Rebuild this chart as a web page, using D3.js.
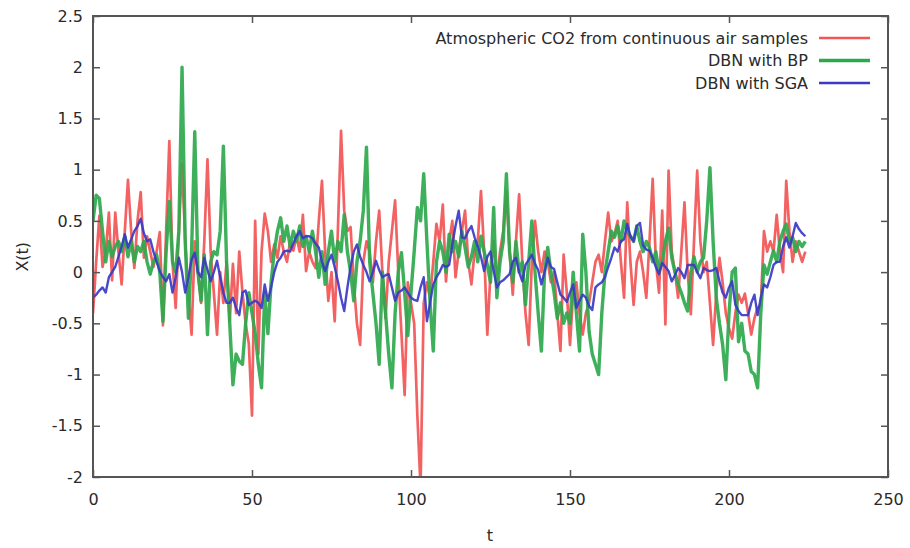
<!DOCTYPE html>
<html>
<head>
<meta charset="utf-8">
<script src="https://cdn.jsdelivr.net/npm/d3@7"></script>
<style>
  body { margin: 0; background: #fff; }
  svg text { font-family: "DejaVu Sans", sans-serif; fill: #2a2a2a; }
</style>
</head>
<body>
<div id="chart-area"></div>
<script>
// series values, one per time step t = 0 .. 224
var co2 = [
  -0.40, 0.10, 0.55, 0.05, 0.20, 0.58, -0.08, 0.58, 0.20, -0.12,
  0.40, 0.90, 0.40, 0.04, 0.50, 0.78, 0.14, 0.35, 0.20, 0.05,
  0.20, 0.39, -0.52, 0.40, 1.28, 0.10, -0.35, 0.40, 1.06, 0.30,
  -0.20, -0.61, 0.30, 0.00, -0.30, 0.30, 1.10, 0.20, -0.20, -0.61,
  0.00, -0.30, 0.10, -0.48, 0.08, -0.40, 0.20, -0.20, -0.50, -0.70,
  -1.40, 0.50, -0.80, 0.20, 0.57, 0.40, 0.10, 0.27, 0.14, 0.35,
  0.20, 0.10, 0.30, 0.21, 0.35, 0.20, 0.56, 0.01, 0.20, 0.10,
  0.04, 0.50, 0.89, 0.20, -0.28, 0.00, -0.48, 0.40, 1.38, 0.60,
  0.40, 0.44, -0.10, -0.50, -0.71, 0.10, 0.30, 0.20, -0.10, 0.30,
  0.60, 0.00, -0.45, 0.10, 0.40, 0.70, 0.00, -0.60, -1.20, -0.10,
  -0.30, -0.50, -1.40, -2.10, -0.30, -0.10, -0.25, 0.10, 0.47, 0.30,
  0.66, -0.09, 0.30, 0.50, -0.05, 0.20, 0.40, 0.60, 0.10, -0.12,
  0.20, 0.30, 0.79, 0.20, -0.61, 0.00, 0.30, -0.10, 0.20, 0.40,
  0.79, 0.20, -0.22, 0.30, 0.76, 0.10, -0.40, -0.71, 0.10, 0.50,
  0.20, 0.00, 0.20, 0.10, -0.10, 0.00, -0.40, -0.77, 0.17, -0.20,
  -0.71, -0.20, -0.10, -0.40, -0.61, -0.40, -0.30, -0.10, 0.10, 0.17,
  0.00, 0.30, 0.58, 0.30, 0.37, 0.50, 0.10, -0.25, 0.68, 0.10,
  -0.32, 0.10, 0.20, 0.00, -0.25, 0.30, 0.91, 0.10, -0.20, 0.60,
  -0.51, 0.99, 0.20, 0.00, -0.25, 0.20, 0.68, 0.00, -0.41, 0.30,
  0.99, 0.30, 0.00, 0.10, -0.30, -0.71, -0.20, 0.14, -0.10, -0.40,
  -0.55, -0.65, -0.40, -0.22, -0.30, -0.21, -0.40, -0.61, -0.45, -0.35,
  -0.32, 0.40, 0.20, 0.30, 0.20, 0.56, 0.20, 0.00, 0.89, 0.40,
  0.10, 0.30, 0.20, 0.10, 0.20
];

var dbnBP = [
  0.50, 0.75, 0.72, 0.40, 0.10, 0.30, 0.15, 0.25, 0.30, 0.20,
  0.35, 0.15, 0.30, 0.10, 0.25, 0.20, 0.30, 0.10, -0.02, 0.10,
  0.17, 0.00, -0.48, 0.20, 0.69, 0.10, 0.00, 0.40, 2.00, 0.30,
  -0.45, 0.20, 1.37, 0.00, -0.28, 0.17, -0.61, 0.10, 0.20, 0.17,
  0.40, 1.23, 0.10, -0.50, -1.10, -0.80, -0.87, -0.90, -0.50, -0.20,
  -0.40, -0.60, -0.90, -1.13, -0.20, -0.60, -0.10, 0.20, 0.40, 0.53,
  0.30, 0.45, 0.25, 0.40, 0.30, 0.45, 0.25, 0.35, 0.20, 0.40,
  0.20, -0.05, 0.20, -0.12, 0.20, 0.40, 0.10, 0.30, 0.20, 0.56,
  0.20, 0.00, -0.28, 0.10, 0.30, 0.60, 1.22, 0.10, -0.20, -0.50,
  -0.90, 0.00, -0.40, -0.80, -1.13, -0.40, 0.00, 0.19, -0.20, -0.62,
  -0.20, 0.20, 0.63, 0.50, 0.96, 0.30, -0.30, -0.77, 0.10, 0.30,
  0.20, 0.00, 0.37, 0.20, 0.30, 0.15, 0.40, 0.24, 0.05, 0.15,
  0.30, 0.10, 0.35, 0.20, 0.07, -0.10, 0.63, -0.25, 0.10, 0.30,
  0.96, 0.20, -0.10, 0.30, 0.00, 0.10, -0.32, 0.10, 0.50, 0.00,
  -0.40, -0.77, 0.00, 0.24, 0.00, -0.20, -0.45, -0.30, -0.50, -0.40,
  -0.50, 0.00, -0.40, -0.77, 0.37, 0.00, -0.58, -0.80, -0.90, -1.00,
  -0.40, 0.00, 0.20, 0.40, 0.34, 0.45, 0.30, 0.50, 0.40, 0.35,
  0.30, 0.45, 0.30, 0.20, 0.30, 0.24, 0.10, 0.20, 0.00, 0.10,
  0.30, 0.43, 0.14, 0.00, -0.12, -0.20, -0.30, -0.38, 0.00, 0.15,
  0.00, 0.10, 0.14, 0.50, 1.02, 0.30, -0.25, -0.50, -0.71, -1.05,
  -0.40, 0.00, 0.04, -0.68, -0.50, -0.77, -0.80, -0.97, -1.00, -1.13,
  -0.40, 0.07, -0.02, 0.10, 0.21, 0.10, 0.30, 0.40, 0.47, 0.30,
  0.34, 0.20, 0.30, 0.25, 0.30
];

var dbnSGA = [
  -0.25, -0.22, -0.18, -0.15, -0.20, -0.05, 0.00, 0.05, 0.15, 0.25,
  0.37, 0.24, 0.32, 0.40, 0.45, 0.52, 0.38, 0.30, 0.32, 0.20,
  0.10, 0.01, -0.05, -0.09, -0.02, -0.20, -0.05, 0.14, 0.00, -0.20,
  -0.05, 0.12, 0.19, 0.00, -0.05, 0.14, 0.02, -0.09, 0.00, 0.11,
  -0.05, -0.20, -0.30, -0.30, -0.25, -0.35, -0.42, -0.20, -0.18, -0.32,
  -0.30, -0.28, -0.30, -0.35, -0.12, -0.28, -0.15, 0.00, 0.10, 0.14,
  0.20, 0.21, 0.20, 0.28, 0.35, 0.40, 0.33, 0.35, 0.35, 0.33,
  0.28, 0.24, 0.10, 0.01, 0.10, 0.17, 0.05, -0.09, -0.25, -0.38,
  -0.15, 0.05, 0.20, 0.27, 0.15, 0.07, 0.00, -0.09, 0.00, 0.11,
  0.02, -0.05, -0.03, -0.02, -0.15, -0.28, -0.20, -0.18, -0.15, -0.20,
  -0.25, -0.27, -0.28, -0.15, -0.05, -0.48, -0.30, -0.12, -0.05, 0.00,
  0.07, 0.05, 0.07, 0.27, 0.45, 0.60, 0.34, 0.33, 0.40, 0.45,
  0.34, 0.25, 0.15, 0.01, 0.15, 0.20, 0.01, -0.15, -0.10, -0.08,
  -0.05, -0.02, 0.10, 0.14, 0.00, -0.09, 0.07, 0.12, 0.17, 0.08,
  0.02, -0.12, 0.00, 0.14, 0.05, 0.03, -0.10, -0.22, -0.25, -0.29,
  -0.20, -0.12, -0.35, -0.28, -0.22, -0.25, -0.33, -0.37, -0.15, -0.12,
  -0.10, -0.05, 0.05, 0.14, 0.24, 0.20, 0.30, 0.32, 0.47, 0.35,
  0.30, 0.45, 0.48, 0.26, 0.22, 0.21, 0.14, 0.05, -0.02, 0.09,
  0.05, 0.01, -0.09, -0.03, 0.04, 0.00, -0.06, 0.07, 0.07, 0.07,
  0.00, -0.06, 0.04, 0.02, 0.01, 0.02, 0.04, -0.09, -0.20, -0.25,
  -0.15, -0.09, -0.32, -0.38, -0.42, -0.42, -0.42, -0.30, -0.22, -0.42,
  -0.25, -0.12, -0.15, -0.05, 0.07, 0.10, 0.10, 0.25, 0.34, 0.24,
  0.35, 0.48, 0.42, 0.38, 0.35
];

var seriesNames = ["Atmospheric CO2 from continuous air samples", "DBN with BP", "DBN with SGA"];
var seriesColors = ["#f25555", "#2ea84c", "#3a3ac4"];
var seriesWidths = [2.7, 3.4, 2.4];
var xTicks = [0, 50, 100, 150, 200, 250];
var yTicks = [-2, -1.5, -1, -0.5, 0, 0.5, 1, 1.5, 2, 2.5];

var width = 910, height = 548;
var plotLeft = 93, plotRight = 888, plotTop = 16, plotBottom = 477;

var svg = d3.select("#chart-area").append("svg")
    .attr("width", width)
    .attr("height", height);

var x = d3.scaleLinear().domain([0, 250]).range([plotLeft, plotRight]);
var y = d3.scaleLinear().domain([-2, 2.5]).range([plotBottom, plotTop]);

svg.append("clipPath").attr("id", "plot-clip")
  .append("rect")
    .attr("x", plotLeft).attr("y", plotTop)
    .attr("width", plotRight - plotLeft).attr("height", plotBottom - plotTop);

// data lines
var allSeries = [co2, dbnBP, dbnSGA];
var line = d3.line()
    .x((d, i) => x(i))
    .y(d => y(d));

svg.append("g").attr("clip-path", "url(#plot-clip)")
  .selectAll("path")
  .data(allSeries)
  .enter()
  .append("path")
    .attr("d", line)
    .attr("fill", "none")
    .attr("stroke", (d, i) => seriesColors[i])
    .attr("stroke-width", (d, i) => seriesWidths[i])
    .attr("stroke-linejoin", "round")
    .attr("opacity", 0.92);

// axes: ticks inward, mirrored on all four sides
var tickLen = 7;
var axisColor = "#555";

svg.append("g")
    .attr("transform", "translate(0," + plotBottom + ")")
    .call(d3.axisBottom(x).tickValues(xTicks).tickSizeInner(-tickLen).tickSizeOuter(0).tickPadding(17))
    .call(g => g.select(".domain").remove());
svg.append("g")
    .attr("transform", "translate(0," + plotTop + ")")
    .call(d3.axisTop(x).tickValues(xTicks).tickSizeInner(-tickLen).tickSizeOuter(0).tickFormat(""))
    .call(g => g.select(".domain").remove());
svg.append("g")
    .attr("transform", "translate(" + plotLeft + ",0)")
    .call(d3.axisLeft(y).tickValues(yTicks).tickFormat(d => String(d)).tickSizeInner(-tickLen).tickSizeOuter(0).tickPadding(10))
    .call(g => g.select(".domain").remove());
svg.append("g")
    .attr("transform", "translate(" + plotRight + ",0)")
    .call(d3.axisRight(y).tickValues(yTicks).tickSizeInner(-tickLen).tickSizeOuter(0).tickFormat(""))
    .call(g => g.select(".domain").remove());

svg.selectAll(".tick line").attr("stroke", axisColor).attr("stroke-width", 1.5);
svg.selectAll(".tick text")
    .attr("font-size", 16)
    .attr("font-family", "DejaVu Sans, sans-serif")
    .attr("fill", "#2a2a2a");

svg.append("rect")
    .attr("x", plotLeft).attr("y", plotTop)
    .attr("width", plotRight - plotLeft).attr("height", plotBottom - plotTop)
    .attr("fill", "none")
    .attr("stroke", axisColor)
    .attr("stroke-width", 2);

// axis titles
svg.append("text")
    .attr("x", 490)
    .attr("y", 541)
    .attr("text-anchor", "middle")
    .attr("font-size", 16)
    .text("t");
svg.append("text")
    .attr("transform", "translate(28," + y(0.15) + ") rotate(-90)")
    .attr("text-anchor", "middle")
    .attr("font-size", 16)
    .text("X(t)");

// legend
var legend = svg.append("g").selectAll("g")
    .data(seriesNames)
    .enter()
    .append("g")
    .attr("transform", (d, i) => "translate(0," + (38 + i * 22.5) + ")");

legend.append("text")
    .attr("x", 808)
    .attr("dy", "0.35em")
    .attr("text-anchor", "end")
    .attr("font-size", 16)
    .text(d => d);

legend.append("line")
    .attr("x1", 819).attr("x2", 870)
    .attr("stroke", (d, i) => seriesColors[i])
    .attr("stroke-width", (d, i) => seriesWidths[i]);
</script>
</body>
</html>
